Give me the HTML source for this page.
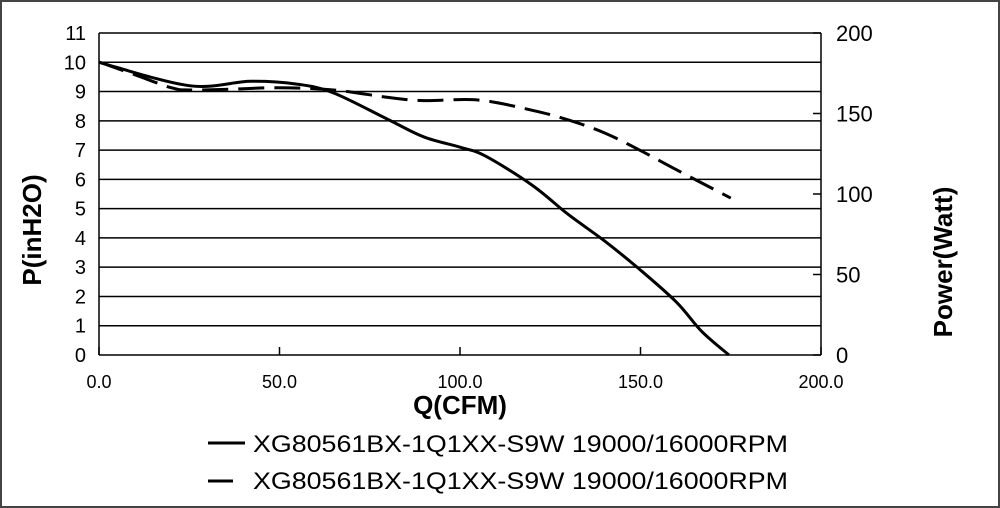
<!DOCTYPE html>
<html><head><meta charset="utf-8"><style>
body{margin:0;background:#fff}
svg{display:block;font-family:"Liberation Sans",Arial,sans-serif}
</style></head><body>
<svg id="chart" width="1000" height="508" viewBox="0 0 1000 508" xmlns="http://www.w3.org/2000/svg">
<rect x="1" y="1" width="998" height="506" fill="#fff" stroke="#444" stroke-width="2"/>
<g id="grid"></g>
<g id="axes"></g>
<g id="series"></g>
<text x="460" y="414" font-size="26" font-weight="bold" text-anchor="middle">Q(CFM)</text>
<text transform="translate(41,230) rotate(-90)" font-size="26" font-weight="bold" text-anchor="middle">P(inH2O)</text>
<text transform="translate(952,262) rotate(-90)" font-size="26" font-weight="bold" text-anchor="middle">Power(Watt)</text>
<g>
<g>
<line x1="208" y1="443" x2="245" y2="443" stroke="#000" stroke-width="3"/>
<text x="253" y="452" font-size="24" textLength="535" lengthAdjust="spacingAndGlyphs">XG80561BX-1Q1XX-S9W 19000/16000RPM</text>
</g>
<g>
<line x1="208" y1="481" x2="233" y2="481" stroke="#000" stroke-width="3"/>
<text x="253" y="489" font-size="24" textLength="535" lengthAdjust="spacingAndGlyphs">XG80561BX-1Q1XX-S9W 19000/16000RPM</text>
</g>
</g>
</svg>
<script>
const qPressure=[0,25,42,55,65,80,90,100,107,120,130,140,150,160,167,174.5];
const pressure=[10,9.2,9.35,9.25,8.95,8.05,7.45,7.1,6.8,5.8,4.8,3.9,2.9,1.8,0.8,0];
const qPower=[0,10,20,25,35,50,65,80,90,105,120,130,140,150,160,175];
const power=[182,174,166,164.6,165,166,164.6,160,158,158.4,152,146,138,127,115,97.5];
const xTicks=[0,50,100,150,200];
const xTickLabels=["0.0","50.0","100.0","150.0","200.0"];
const yTicks=[0,1,2,3,4,5,6,7,8,9,10,11];
const y2Ticks=[0,50,100,150,200];
const L=99,R=821,T=33,B=355;
const xs=q=>L+(q/200)*(R-L);
const ys=p=>B-(p/11)*(B-T);
const ys2=w=>B-(w/200)*(B-T);
const NS="http://www.w3.org/2000/svg";
function mk(tag,attrs,parent,txt){const e=document.createElementNS(NS,tag);for(const k in attrs)e.setAttribute(k,attrs[k]);if(txt!==undefined)e.textContent=txt;parent.appendChild(e);return e;}
const grid=document.getElementById('grid'),axes=document.getElementById('axes'),series=document.getElementById('series');
yTicks.forEach(v=>{
  const g=mk('line',{x1:L,x2:R,y1:ys(v),y2:ys(v),stroke:'#000','stroke-width':1.5},grid);
  
  
  const t=mk('text',{x:86,y:ys(v)+7,'font-size':20,'text-anchor':'end'},axes,String(v));
  
  
});
y2Ticks.forEach(v=>{
  const tk=mk('line',{x1:R-8,x2:R,y1:ys2(v),y2:ys2(v),stroke:'#000','stroke-width':1.5},axes);
  
  
  const t=mk('text',{x:836,y:ys2(v)+8,'font-size':22},axes,String(v));
  
  
});
xTicks.forEach((v,i)=>{
  const tk=mk('line',{x1:xs(v),x2:xs(v),y1:B-8,y2:B,stroke:'#000','stroke-width':1.5},axes);
  
  
  const t=mk('text',{x:xs(v),y:388,'font-size':18,'text-anchor':'middle'},axes,xTickLabels[i]);
  
  
});
const la=mk('line',{x1:L,x2:L,y1:T,y2:B,stroke:'#000','stroke-width':1.5},axes);


const ra=mk('line',{x1:R,x2:R,y1:T,y2:B,stroke:'#000','stroke-width':1.5},axes);


function smooth(pts){
  let d='M'+pts[0][0]+','+pts[0][1];
  for(let i=0;i<pts.length-1;i++){
    const p0=pts[i-1]||pts[i],p1=pts[i],p2=pts[i+1],p3=pts[i+2]||p2;
    const c1=[p1[0]+(p2[0]-p0[0])/6,p1[1]+(p2[1]-p0[1])/6];
    const c2=[p2[0]-(p3[0]-p1[0])/6,p2[1]-(p3[1]-p1[1])/6];
    d+=' C'+c1[0]+','+c1[1]+' '+c2[0]+','+c2[1]+' '+p2[0]+','+p2[1];
  }
  return d;
}
const pp=mk('path',{d:smooth(qPressure.map((q,i)=>[xs(q),ys(pressure[i])])),fill:'none',stroke:'#000','stroke-width':3},series);


const pw=mk('path',{d:smooth(qPower.map((q,i)=>[xs(q),ys2(power[i])])),fill:'none',stroke:'#000','stroke-width':3,'stroke-dasharray':'26,10'},series);


</script>
</body></html>
